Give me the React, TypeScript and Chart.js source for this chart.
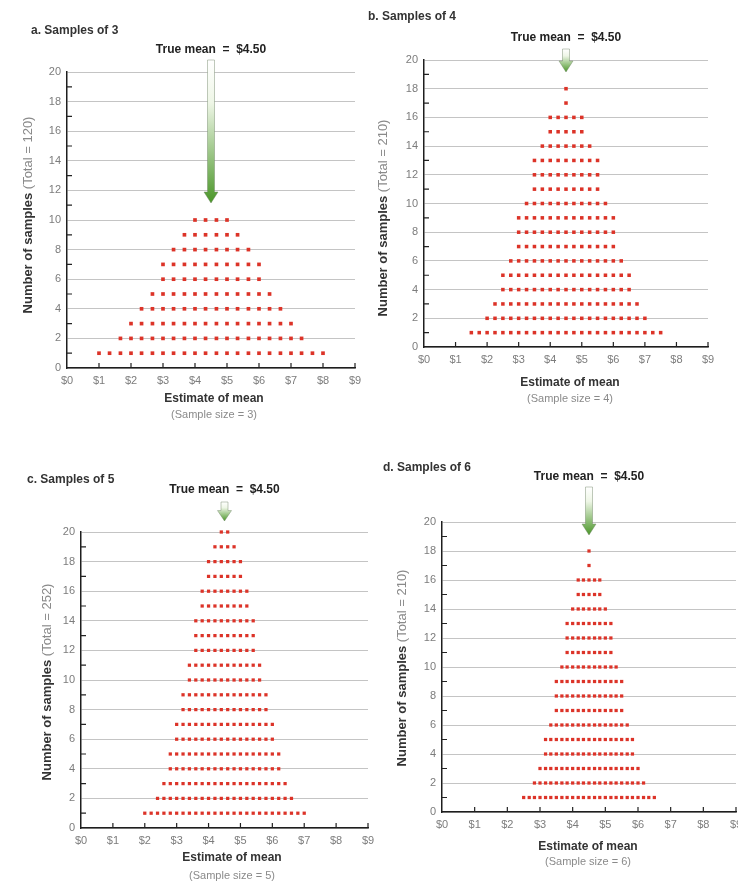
import React, { useEffect, useRef } from 'react';
import { Chart, registerables } from 'chart.js';

Chart.register(...registerables);

// ---------- data ----------
const TRUE_MEAN = 4.5;
const xTickLabels = ['$0', '$1', '$2', '$3', '$4', '$5', '$6', '$7', '$8', '$9'];
const yTickValues = [0, 2, 4, 6, 8, 10, 12, 14, 16, 18, 20];

const panelTitles = ['a. Samples of 3', 'b. Samples of 4', 'c. Samples of 5', 'd. Samples of 6'];
const sampleSizes = [3, 4, 5, 6];
const totals = [120, 210, 252, 210];

const meansA = [1.0, 1.33, 1.67, 2.0, 2.33, 2.67, 3.0, 3.33, 3.67, 4.0, 4.33, 4.67, 5.0, 5.33, 5.67, 6.0, 6.33, 6.67, 7.0, 7.33, 7.67, 8.0];
const countsA = [1, 1, 2, 3, 4, 5, 7, 8, 9, 10, 10, 10, 10, 9, 8, 7, 5, 4, 3, 2, 1, 1];

const meansB = [1.5, 1.75, 2.0, 2.25, 2.5, 2.75, 3.0, 3.25, 3.5, 3.75, 4.0, 4.25, 4.5, 4.75, 5.0, 5.25, 5.5, 5.75, 6.0, 6.25, 6.5, 6.75, 7.0, 7.25, 7.5];
const countsB = [1, 1, 2, 3, 5, 6, 9, 10, 13, 14, 16, 16, 18, 16, 16, 14, 13, 10, 9, 6, 5, 3, 2, 1, 1];

const meansC = [2.0, 2.2, 2.4, 2.6, 2.8, 3.0, 3.2, 3.4, 3.6, 3.8, 4.0, 4.2, 4.4, 4.6, 4.8, 5.0, 5.2, 5.4, 5.6, 5.8, 6.0, 6.2, 6.4, 6.6, 6.8, 7.0];
const countsC = [1, 1, 2, 3, 5, 7, 9, 11, 14, 16, 18, 19, 20, 20, 19, 18, 16, 14, 11, 9, 7, 5, 3, 2, 1, 1];

const meansD = [2.5, 2.67, 2.83, 3.0, 3.17, 3.33, 3.5, 3.67, 3.83, 4.0, 4.17, 4.33, 4.5, 4.67, 4.83, 5.0, 5.17, 5.33, 5.5, 5.67, 5.83, 6.0, 6.17, 6.33, 6.5];
const countsD = [1, 1, 2, 3, 5, 6, 9, 10, 13, 14, 16, 16, 18, 16, 16, 14, 13, 10, 9, 6, 5, 3, 2, 1, 1];

const seriesMeans = [meansA, meansB, meansC, meansD];
const seriesCounts = [countsA, countsB, countsC, countsD];

// ---------- layout / style ----------
const W = 738;
const H = 886;
const CW = 760;
const YW = 30;
const XH = 26;
const FONT = "'Liberation Sans', Arial, Helvetica, sans-serif";

const layouts = [
  { area: { left: 67, right: 355, top: 72, bottom: 368 }, title: { x: 31, y: 31 }, meanY: 50, arrowTop: 60, arrowTip: 203, yTitle: { x: 28, y: 215 }, xTitle: { x: 214, y1: 399, y2: 415 }, dotR: 2.6 },
  { area: { left: 424, right: 708, top: 60, bottom: 347 }, title: { x: 368, y: 17 }, meanY: 38, arrowTop: 49, arrowTip: 72, yTitle: { x: 383, y: 218 }, xTitle: { x: 570, y1: 383, y2: 399 }, dotR: 2.5 },
  { area: { left: 81, right: 368, top: 532, bottom: 828 }, title: { x: 27, y: 480 }, meanY: 490, arrowTop: 502, arrowTip: 521, yTitle: { x: 47, y: 682 }, xTitle: { x: 232, y1: 858, y2: 876 }, dotR: 2.3 },
  { area: { left: 442, right: 736, top: 522, bottom: 812 }, title: { x: 383, y: 468 }, meanY: 477, arrowTop: 487, arrowTip: 535, yTitle: { x: 402, y: 668 }, xTitle: { x: 588, y1: 847, y2: 862 }, dotR: 2.3 },
];

function buildPoints(means: number[], counts: number[]) {
  const pts: { x: number; y: number }[] = [];
  means.forEach((m, i) => {
    for (let k = 1; k <= counts[i]; k++) pts.push({ x: m, y: k });
  });
  return pts;
}

function makeDecor(i: number) {
  const L = layouts[i];
  return {
    id: 'decor' + i,
    afterDraw(chart: any) {
      const ctx: CanvasRenderingContext2D = chart.ctx;
      const xs = chart.scales.x;
      const ys = chart.scales.y;
      ctx.save();
      // minor ticks on y axis (odd values) and x axis ticks (inside)
      ctx.strokeStyle = '#222';
      ctx.lineWidth = 1.2;
      ctx.beginPath();
      for (let v = 1; v < 20; v += 2) {
        const y = ys.getPixelForValue(v);
        ctx.moveTo(xs.left, y);
        ctx.lineTo(xs.left + 5, y);
      }
      for (let v = 1; v < xTickLabels.length; v++) {
        const x = xs.getPixelForValue(v);
        ctx.moveTo(x, ys.bottom);
        ctx.lineTo(x, ys.bottom - 5);
      }
      ctx.stroke();

      // panel title
      ctx.fillStyle = '#333';
      ctx.font = 'bold 12px ' + FONT;
      ctx.textAlign = 'left';
      ctx.textBaseline = 'middle';
      ctx.fillText(panelTitles[i], L.title.x, L.title.y);

      // true mean arrow
      const ax = xs.getPixelForValue(TRUE_MEAN);
      ctx.font = 'bold 12px ' + FONT;
      ctx.textAlign = 'center';
      ctx.fillStyle = '#222';
      ctx.fillText('True mean  =  $4.50', ax, L.meanY);

      const top = L.arrowTop;
      const tip = L.arrowTip;
      const headLen = Math.min(11, (tip - top) * 0.55);
      const sw = 3.5;
      const hw = 7;
      const grad = ctx.createLinearGradient(0, top, 0, tip);
      grad.addColorStop(0, '#ffffff');
      grad.addColorStop(0.3, '#eef6e6');
      grad.addColorStop(1, '#4a9628');
      ctx.beginPath();
      ctx.moveTo(ax - sw, top);
      ctx.lineTo(ax + sw, top);
      ctx.lineTo(ax + sw, tip - headLen);
      ctx.lineTo(ax + hw, tip - headLen);
      ctx.lineTo(ax, tip);
      ctx.lineTo(ax - hw, tip - headLen);
      ctx.lineTo(ax - sw, tip - headLen);
      ctx.closePath();
      ctx.fillStyle = grad;
      ctx.fill();
      ctx.strokeStyle = 'rgba(110,130,100,0.55)';
      ctx.lineWidth = 0.8;
      ctx.stroke();

      // y axis title (rotated, two styles)
      ctx.save();
      ctx.translate(L.yTitle.x, L.yTitle.y);
      ctx.rotate(-Math.PI / 2);
      const p1 = 'Number of samples ';
      const p2 = '(Total = ' + totals[i] + ')';
      ctx.font = 'bold 13px ' + FONT;
      const w1 = ctx.measureText(p1).width;
      ctx.font = '13px ' + FONT;
      const w2 = ctx.measureText(p2).width;
      const start = -(w1 + w2) / 2;
      ctx.textAlign = 'left';
      ctx.textBaseline = 'middle';
      ctx.font = 'bold 13px ' + FONT;
      ctx.fillStyle = '#333';
      ctx.fillText(p1, start, 0);
      ctx.font = '13px ' + FONT;
      ctx.fillStyle = '#8a8a8a';
      ctx.fillText(p2, start + w1, 0);
      ctx.restore();

      // x axis title
      ctx.textAlign = 'center';
      ctx.textBaseline = 'middle';
      ctx.font = 'bold 12px ' + FONT;
      ctx.fillStyle = '#333';
      ctx.fillText('Estimate of mean', L.xTitle.x, L.xTitle.y1);
      ctx.font = '11px ' + FONT;
      ctx.fillStyle = '#8a8a8a';
      ctx.fillText('(Sample size = ' + sampleSizes[i] + ')', L.xTitle.x, L.xTitle.y2);
      ctx.restore();
    },
  };
}

export default function App() {
  const refs = useRef<(HTMLCanvasElement | null)[]>([]);

  useEffect(() => {
    const charts: Chart[] = [];
    layouts.forEach((L, i) => {
      const canvas = refs.current[i];
      if (!canvas) return;
      const pts = buildPoints(seriesMeans[i], seriesCounts[i]);
      const chart = new Chart(canvas, {
        type: 'scatter',
        data: {
          datasets: [
            {
              data: pts,
              pointRadius: L.dotR,
              pointHoverRadius: L.dotR,
              pointBackgroundColor: '#dc3328',
              pointBorderWidth: 0,
              pointStyle: 'rect',
              showLine: false,
              clip: false,
            },
          ],
        },
        options: {
          animation: false,
          responsive: false,
          maintainAspectRatio: false,
          events: [],
          layout: {
            padding: {
              left: L.area.left - YW,
              right: CW - L.area.right,
              top: L.area.top,
              bottom: H - L.area.bottom - XH,
            },
          },
          plugins: {
            legend: { display: false },
            tooltip: { enabled: false },
            title: { display: false },
          },
          scales: {
            x: {
              type: 'linear',
              min: 0,
              max: 9,
              afterFit: (s: any) => {
                s.height = XH;
              },
              ticks: {
                stepSize: 1,
                autoSkip: false,
                maxRotation: 0,
                color: '#7c7c7c',
                font: { size: 11, family: FONT },
                padding: 6,
                callback: (v: any) => xTickLabels[Number(v)] ?? '',
              },
              grid: { display: false, drawTicks: false },
              border: { display: true, color: '#1e1e1e', width: 1.5 },
            },
            y: {
              type: 'linear',
              min: 0,
              max: 20,
              afterFit: (s: any) => {
                s.width = YW;
              },
              afterBuildTicks: (s: any) => {
                s.ticks = yTickValues.map((v) => ({ value: v }));
              },
              ticks: {
                autoSkip: false,
                color: '#7c7c7c',
                font: { size: 11, family: FONT },
                padding: 6,
              },
              grid: { color: '#c4c4c4', lineWidth: 1, drawTicks: false },
              border: { display: true, color: '#1e1e1e', width: 1.5 },
            },
          },
        },
        plugins: [makeDecor(i)],
      } as any);
      charts.push(chart);
    });
    return () => charts.forEach((c) => c.destroy());
  }, []);

  return (
    <div
      style={{
        position: 'absolute',
        left: 0,
        top: 0,
        width: W,
        height: H,
        overflow: 'hidden',
        background: '#ffffff',
      }}
    >
      {layouts.map((_, i) => (
        <canvas
          key={i}
          ref={(el) => {
            refs.current[i] = el;
          }}
          width={CW}
          height={H}
          style={{ position: 'absolute', left: 0, top: 0, width: CW, height: H }}
        />
      ))}
    </div>
  );
}
